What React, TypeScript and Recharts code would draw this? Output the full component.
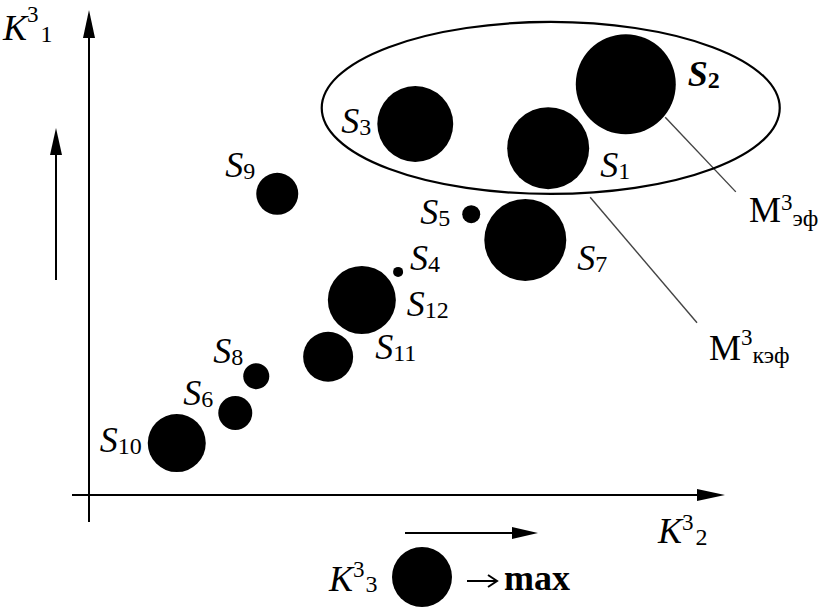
import React from "react";
import { ScatterChart, Scatter, XAxis, YAxis, ZAxis, ReferenceDot, ReferenceLine } from "recharts";

// система S1..S12: K3_2 по горизонтали, K3_1 по вертикали, K3_3 - площадь круга
const NAMES = ["S1", "S2", "S3", "S4", "S5", "S6", "S7", "S8", "S9", "S10", "S11", "S12"];
const K2 = [7.22, 8.44, 5.13, 4.86, 6.01, 2.3, 6.86, 2.63, 2.96, 1.38, 3.76, 4.29];
const K1 = [7.15, 8.47, 7.65, 4.6, 5.79, 1.69, 5.26, 2.45, 6.21, 1.07, 2.85, 4.02];
const K3 = [16.8, 25, 14.4, 0.25, 0.81, 2.89, 16.8, 1.69, 4.41, 8.41, 6.25, 11.56];
const LEGEND_K3 = 9;

// где подпись стоит относительно центра круга
const LABEL_POS: Record<string, [number, number, "start" | "end"]> = {
  S1: [52, 29, "start"],
  S2: [62, 2, "start"],
  S3: [-44, 9, "end"],
  S4: [12, -2, "start"],
  S5: [-21, 10, "end"],
  S6: [-22, -8, "end"],
  S7: [52, 30, "start"],
  S8: [-13, -13, "end"],
  S9: [-22, -17, "end"],
  S10: [-35, 9, "end"],
  S11: [47, 2, "start"],
  S12: [45, 16, "start"],
};

const FONT = "'Liberation Serif', 'Times New Roman', serif";
const MAX_AREA = Math.PI * 50 * 50;
const INK = "#000";

const data = NAMES.map((name, i) => ({ name, x: K2[i], y: K1[i], z: K3[i] }));

function Bubble(props: any) {
  const { cx, cy, payload } = props;
  const r = props.size != null ? Math.sqrt(props.size / Math.PI) : props.width / 2;
  const [dx, dy, anchor] = LABEL_POS[payload.name];
  const bold = payload.name === "S2";
  return (
    <g>
      <circle cx={cx} cy={cy} r={r} fill={INK} />
      <text
        x={cx + dx}
        y={cy + dy}
        textAnchor={anchor}
        fontFamily={FONT}
        fontSize={36}
        fontWeight={bold ? "bold" : "normal"}
        fill={INK}
      >
        <tspan fontStyle="italic">S</tspan>
        <tspan fontSize={24} dy={2}>
          {payload.name.slice(1)}
        </tspan>
      </text>
    </g>
  );
}

function Decor() {
  const legendR = Math.sqrt((LEGEND_K3 / 25) * MAX_AREA / Math.PI);
  return (
    <svg
      width={832}
      height={614}
      style={{ position: "absolute", left: 0, top: 0, pointerEvents: "none" }}
      fontFamily={FONT}
    >
      {/* оси */}
      <line x1={89} y1={522} x2={89} y2={30} stroke={INK} strokeWidth={2} />
      <polygon points="89,10 83,38 95,38" fill={INK} />
      <line x1={72} y1={495} x2={705} y2={495} stroke={INK} strokeWidth={2} />
      <polygon points="725,495 697,489 697,501" fill={INK} />
      <line x1={56} y1={280} x2={56} y2={140} stroke={INK} strokeWidth={2} />
      <polygon points="56,128 50,155 62,155" fill={INK} />
      <line x1={405} y1={533} x2={520} y2={533} stroke={INK} strokeWidth={2} />
      <polygon points="538,533 512,527 512,539" fill={INK} />

      <text x={3} y={40} fontSize={36} fill={INK}>
        <tspan fontStyle="italic">K</tspan>
        <tspan fontSize={23} dy={-18}>3</tspan>
        <tspan fontSize={24} dy={20} dx={2}>1</tspan>
      </text>
      <text x={658} y={543} fontSize={36} fill={INK}>
        <tspan fontStyle="italic">K</tspan>
        <tspan fontSize={23} dy={-13}>3</tspan>
        <tspan fontSize={24} dy={15} dx={2}>2</tspan>
      </text>

      <text x={749} y={222} fontSize={36} fill={INK}>
        <tspan>M</tspan>
        <tspan fontSize={23} dy={-12}>3</tspan>
        <tspan fontSize={24} dy={16}>эф</tspan>
      </text>
      <text x={709} y={360} fontSize={36} fill={INK}>
        <tspan>M</tspan>
        <tspan fontSize={23} dy={-15}>3</tspan>
        <tspan fontSize={24} dy={18}>кэф</tspan>
      </text>

      {/* легенда */}
      <text x={329} y={591} fontSize={36} fill={INK}>
        <tspan fontStyle="italic">K</tspan>
        <tspan fontSize={23} dy={-14}>3</tspan>
        <tspan fontSize={24} dy={15} dx={1}>3</tspan>
      </text>
      <circle cx={422} cy={577} r={legendR} fill={INK} />
      <line x1={467} y1={581} x2={496} y2={581} stroke={INK} strokeWidth={2} />
      <polyline points="488,575 497,581 488,587" fill="none" stroke={INK} strokeWidth={2} />
      <text x={504} y={590} fontSize={36} fontWeight="bold" fill={INK}>
        max
      </text>
    </svg>
  );
}

export default function App() {
  return (
    <div style={{ position: "absolute", left: 0, top: 0, width: 832, height: 614, background: "#fff" }}>
      <ScatterChart width={832} height={614} margin={{ top: 10, right: 107, bottom: 119, left: 89 }}>
        <XAxis type="number" dataKey="x" domain={[0, 10]} hide />
        <YAxis type="number" dataKey="y" domain={[0, 10]} hide />
        <ZAxis type="number" dataKey="z" domain={[0, 25]} range={[0, MAX_AREA]} />
        <ReferenceDot
          x={7.26}
          y={7.98}
          ifOverflow="visible"
          shape={(p: any) => (
            <ellipse cx={p.cx} cy={p.cy} rx={229} ry={86} fill="none" stroke={INK} strokeWidth={2.2} />
          )}
        />
        <ReferenceLine
          segment={[{ x: 9.06, y: 7.79 }, { x: 10.17, y: 6.25 }]}
          ifOverflow="visible"
          stroke="#444"
          strokeWidth={1.4}
        />
        <ReferenceLine
          segment={[{ x: 7.88, y: 6.14 }, { x: 9.56, y: 3.55 }]}
          ifOverflow="visible"
          stroke="#444"
          strokeWidth={1.4}
        />
        <Scatter data={data} shape={<Bubble />} isAnimationActive={false} />
      </ScatterChart>
      <Decor />
    </div>
  );
}
